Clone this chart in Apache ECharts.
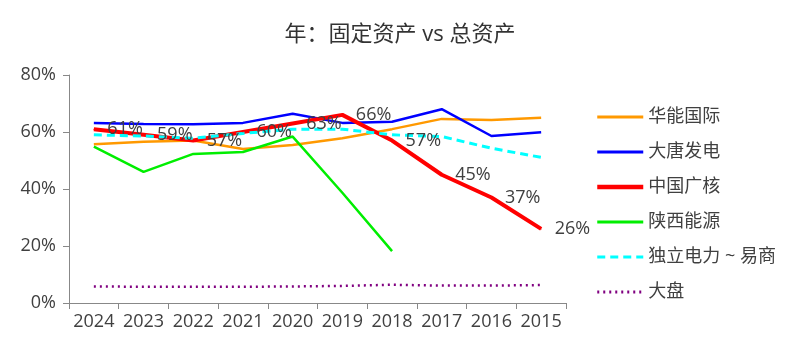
<!DOCTYPE html>
<html>
<head>
<meta charset="utf-8">
<script src="https://cdn.jsdelivr.net/npm/echarts@6/dist/echarts.min.js"></script>
<style>
  html, body { margin: 0; padding: 0; background: #fff; }
  #chart { width: 800px; height: 353px; }
</style>
</head>
<body>
<div id="chart"></div>
<script>
// 年份（从近到远）
const years = ['2024', '2023', '2022', '2021', '2020', '2019', '2018', '2017', '2016', '2015']

// 固定资产 / 总资产 (%)
const huaneng = [55.7, 56.6, 57.0, 54.0, 55.4, 57.8, 61.0, 64.6, 64.2, 65.0]
const datang = [63.2, 62.8, 62.7, 63.2, 66.4, 63.2, 63.6, 68.0, 58.6, 59.9]
const cgn = [61, 59, 57, 60, 63, 66, 57, 45, 37, 26]
const shaanxi = [54.9, 46.0, 52.3, 53.0, 58.4, 38.7, 18.2, null, null, null]
const duli = [59.0, 58.6, 57.8, 59.5, 61.0, 61.0, 59.0, 58.4, 54.3, 51.1]
const dapan = [5.8, 5.7, 5.7, 5.7, 5.8, 6.0, 6.4, 6.1, 6.1, 6.3]

const seriesNames = ['华能国际', '大唐发电', '中国广核', '陕西能源', '独立电力 ~ 易商', '大盘']
const yTicks = [0, 20, 40, 60, 80]

const font = '"Open Sans", "Noto Sans CJK SC", sans-serif'
const textColor = '#404040'

const chart = echarts.init(document.getElementById('chart'), null, { renderer: 'canvas' })

const lineSeries = (name, data, color, width, type) => ({
  name,
  type: 'line',
  data,
  symbol: 'none',
  showSymbol: false,
  connectNulls: false,
  animation: false,
  lineStyle: { color, width, type: type || 'solid' },
  itemStyle: { color }
})

// 中国广核带数据标签，需要（不可见的）标记点
const cgnSeries = lineSeries(seriesNames[2], cgn, '#ff0000', 4)
cgnSeries.symbol = 'circle'
cgnSeries.symbolSize = 1
cgnSeries.showSymbol = true
cgnSeries.label = {
  show: true,
  position: 'right',
  distance: 13,
  fontFamily: font,
  fontSize: 18,
  color: textColor,
  formatter: (p) => Math.round(p.value) + '%'
}
cgnSeries.z = 3

chart.setOption({
  backgroundColor: '#fff',
  title: {
    text: '年：固定资产 vs 总资产',
    left: 'center',
    top: 19,
    textStyle: { fontFamily: font, fontSize: 22, fontWeight: 'normal', color: '#333' }
  },
  legend: {
    orient: 'vertical',
    left: 590,
    top: 103,
    itemWidth: 46,
    itemHeight: 14,
    itemGap: 17,
    itemStyle: { opacity: 0 },
    data: seriesNames.map((n, i) => ({ name: n, lineStyle: { width: i === 2 ? 4.5 : 3 } })),
    textStyle: { fontFamily: font, fontSize: 18, color: textColor }
  },
  grid: {
    left: 69,
    right: 234,
    top: 75,
    bottom: 50,
    containLabel: false
  },
  xAxis: {
    type: 'category',
    data: years,
    boundaryGap: true,
    axisLine: { lineStyle: { color: '#888', width: 1 } },
    axisTick: { show: true, length: 6, lineStyle: { color: '#888' } },
    axisLabel: { fontFamily: font, fontSize: 18, color: textColor, margin: 10, interval: 0 },
    splitLine: { show: false }
  },
  yAxis: {
    type: 'value',
    min: yTicks[0],
    max: yTicks[yTicks.length - 1],
    interval: 20,
    axisLine: { show: true, lineStyle: { color: '#888', width: 1 } },
    axisTick: { show: true, length: 6, lineStyle: { color: '#888' } },
    axisLabel: { fontFamily: font, fontSize: 18, color: textColor, margin: 13, formatter: '{value}%' },
    splitLine: { show: false }
  },
  series: [
    lineSeries(seriesNames[0], huaneng, '#ff9900', 2.5),
    lineSeries(seriesNames[1], datang, '#0000ff', 2.5),
    cgnSeries,
    lineSeries(seriesNames[3], shaanxi, '#00ee00', 2.5),
    lineSeries(seriesNames[4], duli, '#00ffff', 3, [8, 5]),
    lineSeries(seriesNames[5], dapan, '#800080', 2.5, [2, 4])
  ]
})
</script>
</body>
</html>
